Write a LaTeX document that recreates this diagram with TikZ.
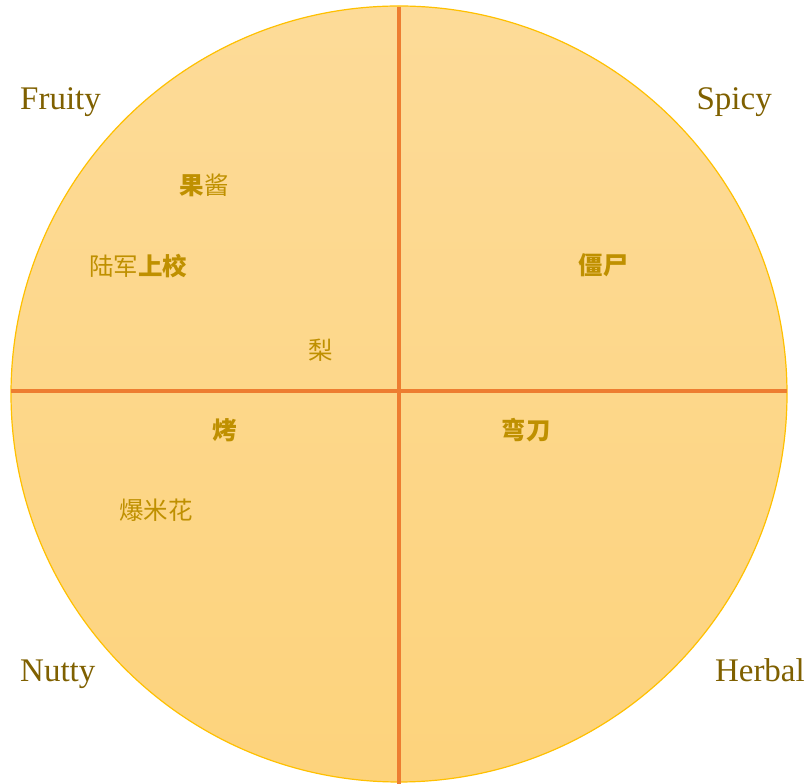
\documentclass[tikz,border=0pt]{standalone}
\usepackage{fontspec}
\setmainfont{Liberation Serif}
\newfontfamily\cjk{Noto Sans CJK SC}
\definecolor{wheeltop}{RGB}{253,219,152}
\definecolor{wheelbot}{RGB}{253,211,124}
\definecolor{rimgold}{RGB}{255,192,0}
\definecolor{crossorange}{RGB}{237,125,49}
\definecolor{flavourbrown}{RGB}{127,96,0}
\definecolor{notegold}{RGB}{191,144,0}
\begin{document}
\begin{tikzpicture}[x=1pt,y=1pt,
        flavour/.style={text=flavourbrown,font=\fontsize{33}{33}\selectfont,inner sep=0pt},
        note/.style={text=notegold,font=\cjk\fontsize{24.5}{24.5}\selectfont,inner sep=0pt}]
        \useasboundingbox (0,0) rectangle (809,784);
        \coordinate (c) at (399,390);
        \shade[top color=wheeltop,bottom color=wheelbot] (c) circle (388);
        \draw[rimgold,line width=1.2pt] (c) circle (388);
        \coordinate (w) at (11,393);
        \coordinate (e) at (787,393);
        \coordinate (n) at (399,777);
        \coordinate (s) at (399,0);
        \draw[crossorange,line width=3.5pt] (w) -- (e);
        \draw[crossorange,line width=3.5pt] (n) -- (s);
        \node[flavour,anchor=base west] (fruity) at (20,674) {Fruity};
        \node[flavour,anchor=base east] (spicy) at (772,674) {Spicy};
        \node[flavour,anchor=base west] (nutty) at (20,102) {Nutty};
        \node[flavour,anchor=base east] (herbal) at (805,102) {Herbal};
        \node[note] (guojiang) at (204,599) {\textbf{果}酱};
        \node[note] (lujun) at (138,518) {陆军\textbf{上校}};
        \node[note] (li) at (321,434) {梨};
        \node[note] (jiangshi) at (603,519) {\textbf{僵尸}};
        \node[note] (kao) at (225,354) {\textbf{烤}};
        \node[note] (wandao) at (526,354) {\textbf{弯刀}};
        \node[note] (baomihua) at (156,274) {爆米花};
    \end{tikzpicture}
\end{document}
